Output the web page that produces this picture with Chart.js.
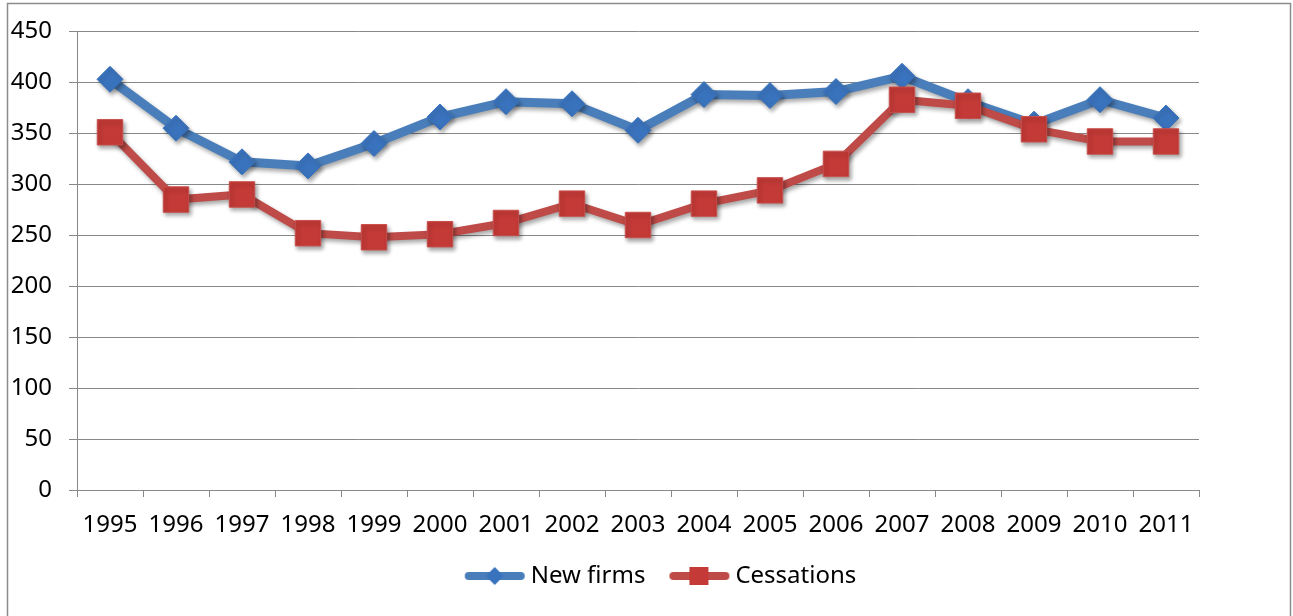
<!DOCTYPE html>
<html>
<head>
<meta charset="utf-8">
<script src="https://cdn.jsdelivr.net/npm/chart.js@4.4.0/dist/chart.umd.min.js"></script>
<style>
  html, body { margin: 0; padding: 0; background: #fff; }
  #wrap { width: 1293px; height: 616px; position: relative; }
</style>
</head>
<body>
<div id="wrap"><canvas id="c" width="1293" height="616"></canvas></div>
<script>
const years = ['1995','1996','1997','1998','1999','2000','2001','2002','2003','2004','2005','2006','2007','2008','2009','2010','2011'];
const newFirms = [403, 355, 322, 318, 340, 366, 381, 379, 353, 388, 387, 391, 406, 381, 359, 383, 365];
const cessations = [351, 285, 290, 252, 248, 251, 262, 281, 260, 281, 294, 320, 383, 377, 354, 342, 342];
const yTicks = [0, 50, 100, 150, 200, 250, 300, 350, 400, 450];

const FONT = "'Noto Sans', 'DejaVu Sans', sans-serif";
const FS = 24;
const GRID = '#888888';
const BLUE_LINE = '#4a7ebb', BLUE_PT = '#3a73bd';
const RED_LINE = '#be4b48', RED_PT = '#c43a37';

function legendIcon(lineColor, ptColor, shape) {
  const cv = document.createElement('canvas');
  cv.width = 62; cv.height = 24;
  const g = cv.getContext('2d');
  g.strokeStyle = lineColor; g.lineWidth = 8; g.lineCap = 'round';
  g.beginPath(); g.moveTo(5, 12); g.lineTo(57, 12); g.stroke();
  g.fillStyle = ptColor;
  g.beginPath();
  if (shape === 'diamond') {
    g.moveTo(31, 3); g.lineTo(40, 12); g.lineTo(31, 21); g.lineTo(22, 12);
  } else {
    g.rect(21, 3, 19, 18);
  }
  g.closePath(); g.fill();
  return cv;
}

const shadowPlugin = {
  id: 'shadow',
  beforeDatasetDraw(chart) {
    const c = chart.ctx; c.save();
    c.shadowColor = 'rgba(0,0,0,0.35)'; c.shadowBlur = 4; c.shadowOffsetX = 2; c.shadowOffsetY = 3;
  },
  afterDatasetDraw(chart) { chart.ctx.restore(); }
};
const borderPlugin = {
  id: 'frame',
  beforeDraw(chart) {
    const c = chart.ctx; c.save();
    c.strokeStyle = '#8c8c8c'; c.lineWidth = 1.5;
    c.strokeRect(7.5, 3.5, 1283, 620);
    c.restore();
  }
};
const legendShift = {
  id: 'legendShift',
  afterLayout(chart) {
    if (chart.legend) { chart.legend.left += 64; chart.legend.right += 64; }
  }
};

new Chart(document.getElementById('c'), {
  type: 'line',
  data: {
    labels: years,
    datasets: [
      { label: 'New firms', data: newFirms, order: 1,
        borderColor: BLUE_LINE, borderWidth: 9, backgroundColor: BLUE_PT,
        pointStyle: 'rectRot', pointRadius: 13, pointBackgroundColor: BLUE_PT, pointBorderColor: BLUE_PT, pointBorderWidth: 1,
        tension: 0, fill: false },
      { label: 'Cessations', data: cessations, order: 0,
        borderColor: RED_LINE, borderWidth: 8, backgroundColor: RED_PT,
        pointStyle: 'rect', pointRadius: 18, pointBackgroundColor: RED_PT, pointBorderColor: '#c8504c', pointBorderWidth: 1,
        tension: 0, fill: false }
    ]
  },
  plugins: [shadowPlugin, borderPlugin, legendShift],
  options: {
    responsive: false,
    animation: false,
    layout: { padding: { left: 0, top: 30, right: 94, bottom: 18 } },
    plugins: {
      tooltip: { enabled: false },
      legend: {
        position: 'bottom',
        labels: {
          font: { family: FONT, size: FS }, color: '#000',
          usePointStyle: true, pointStyleWidth: 48, padding: 30,
          generateLabels(chart) {
            return [
              { text: 'New firms', datasetIndex: 0, pointStyle: legendIcon(BLUE_LINE, BLUE_PT, 'diamond'), fontColor: '#000', lineWidth: 0, hidden: false },
              { text: 'Cessations', datasetIndex: 1, pointStyle: legendIcon(RED_LINE, RED_PT, 'square'), fontColor: '#000', lineWidth: 0, hidden: false }
            ];
          }
        }
      }
    },
    scales: {
      x: {
        offset: true,
        grid: { drawOnChartArea: false, drawTicks: true, tickLength: 7, color: GRID, offset: true },
        border: { color: GRID, width: 1 },
        ticks: { font: { family: FONT, size: FS }, color: '#000', padding: 14, maxRotation: 0, autoSkip: false },
        afterFit(s) { s.height = 44; }
      },
      y: {
        min: 0, max: 450,
        afterBuildTicks(s) { s.ticks = yTicks.map(v => ({ value: v })); },
        grid: { color: GRID, lineWidth: 1, tickLength: 8, drawTicks: true },
        border: { color: GRID, width: 1 },
        ticks: { font: { family: FONT, size: FS }, color: '#000', padding: 17 },
        afterFit(s) { s.width = 77; }
      }
    }
  }
});
</script>
</body>
</html>
